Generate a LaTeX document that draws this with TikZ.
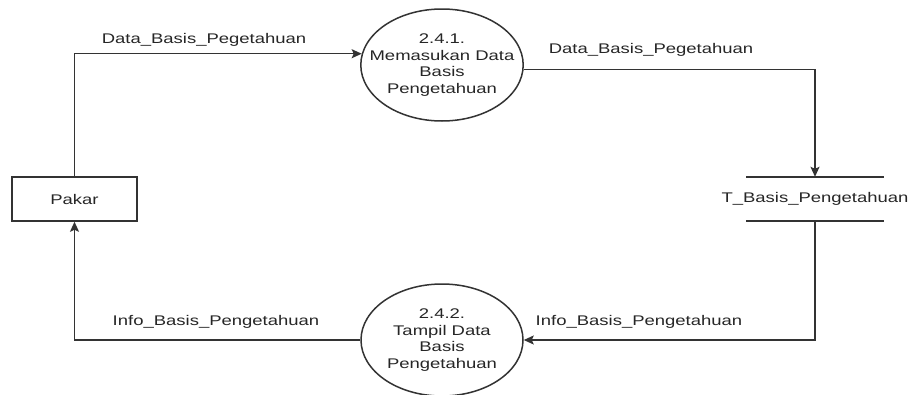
\documentclass[tikz,border=0pt]{standalone}
\usepackage{fontspec}
\newfontfamily\dfdfont[FakeStretch=1.32]{Liberation Sans}
\usetikzlibrary{shapes.geometric,arrows.meta}
\begin{document}
\begin{tikzpicture}[x=1pt,y=-1pt,
  every node/.style={font=\dfdfont\fontsize{14}{16.5}\selectfont, text=black!85},
  flow/.style={draw=black!80, line width=1.5pt, -{Stealth[length=10pt,width=9pt,inset=2pt]}},
  process/.style={ellipse, draw=black!80, line width=1.5pt, minimum width=162pt,
    minimum height=112pt, inner xsep=-15pt, inner ysep=0pt, align=center},
  entity/.style={rectangle, draw=black!80, line width=1.5pt, minimum width=125pt,
    minimum height=44pt, inner sep=0pt},
  datastore/.style={minimum width=138pt, minimum height=44pt, inner sep=0pt},
  flowlabel/.style={inner sep=0pt}]
  \useasboundingbox[fill=white] (0,0) rectangle (913,394);

  % processes
  \node[process] (p1) at (442,65) {2.4.1.\\Memasukan Data\\Basis\\Pengetahuan};
  \node[process] (p2) at (442,340) {2.4.2.\\Tampil Data\\Basis\\Pengetahuan};

  % external entity
  \node[entity] (pakar) at (74.5,199) {Pakar};

  % data store: two horizontal bars
  \node[datastore] (store) at (815,199) {T\_Basis\_Pengetahuan};
  \draw[draw=black!80, line width=1.5pt]
    ([xshift=-69pt]store.north) -- ([xshift=69pt]store.north)
    ([xshift=-69pt]store.south) -- ([xshift=69pt]store.south);

  % data flows
  \draw[flow] (pakar.north) |- (p1.172);
  \draw[flow] (p1.-3) -| (store.north);
  \draw[flow] (store.south) |- (p2.east);
  \draw[flow] (p2.west) -| (pakar.south);

  % flow labels
  \node[flowlabel] (l1) at (204,40) {Data\_Basis\_Pegetahuan};
  \node[flowlabel] (l2) at (651,50) {Data\_Basis\_Pegetahuan};
  \node[flowlabel] (l3) at (216,322) {Info\_Basis\_Pengetahuan};
  \node[flowlabel] (l4) at (639,322) {Info\_Basis\_Pengetahuan};
\end{tikzpicture}
\end{document}
